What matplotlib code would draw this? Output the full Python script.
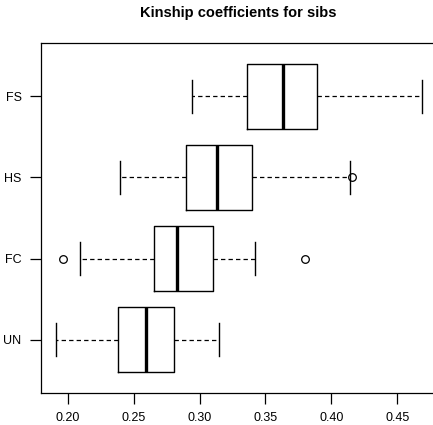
import matplotlib
matplotlib.use("Agg")
import matplotlib.pyplot as plt

plt.rcParams['font.family'] = ['Liberation Sans', 'DejaVu Sans']

# relationship classes, bottom to top
groups = ["UN", "FC", "HS", "FS"]

# five-number summaries per class (lower whisker, q1, median, q3, upper whisker)
whislo = [0.1909, 0.2091, 0.2397, 0.2945]
q1 = [0.2384, 0.2652, 0.2895, 0.3362]
med = [0.2594, 0.2827, 0.3135, 0.3633]
q3 = [0.2809, 0.3102, 0.3400, 0.3893]
whishi = [0.3145, 0.3418, 0.4141, 0.4687]
outliers = [[], [0.1962, 0.3800], [0.4159], []]

xticks = [0.20, 0.25, 0.30, 0.35, 0.40, 0.45]

stats = []
for i, g in enumerate(groups):
    stats.append(dict(label=g, whislo=whislo[i], q1=q1[i], med=med[i],
                      q3=q3[i], whishi=whishi[i], fliers=outliers[i]))

fig = plt.figure(figsize=(4.33, 4.25), dpi=100)
ax = fig.add_axes([41 / 433, 32 / 425, 394.5 / 433, 350 / 425])

ax.bxp(stats, positions=[1, 2, 3, 4], vert=False, widths=0.8,
       capwidths=0.4,
       boxprops=dict(color="black", linewidth=1.0),
       medianprops=dict(color="black", linewidth=2.4, solid_capstyle="butt"),
       whiskerprops=dict(color="black", linewidth=0.9, linestyle=(0, (3.5, 2.5))),
       capprops=dict(color="black", linewidth=1.0),
       flierprops=dict(marker="o", markersize=5.5, markerfacecolor="none",
                       markeredgecolor="black", markeredgewidth=0.9))

ax.set_ylim(0.34, 4.66)
ax.set_xlim(0.1797, 0.4790)
ax.set_xticks(xticks)
ax.set_xticklabels([f"{t:.2f}" for t in xticks])
ax.set_yticks([1, 2, 3, 4])
ax.set_yticklabels(groups)
ax.tick_params(axis="both", length=8, width=0.9, labelsize=9, colors="black")
ax.tick_params(axis="x", pad=6)
ax.tick_params(axis="y", pad=6)
for s in ax.spines.values():
    s.set_linewidth(0.9)
ax.spines["right"].set_visible(False)

fig.text(238 / 433, 1 - 13.5 / 425, "Kinship coefficients for sibs",
         ha="center", va="center", fontsize=10.5, fontweight="bold")

fig.savefig("out.png", dpi=100)
